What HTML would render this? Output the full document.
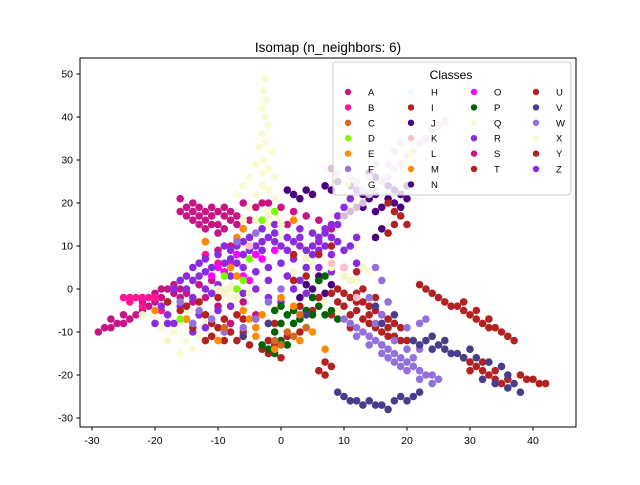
<!DOCTYPE html>
<html><head><meta charset="utf-8"><style>
body{margin:0;background:#fff}
svg text{font-family:"Liberation Sans","DejaVu Sans",sans-serif}
</style></head><body>
<svg id="chart" width="640" height="480" viewBox="0 0 640 480">
<rect width="640" height="480" fill="#fff"/>
<text x="328" y="52" text-anchor="middle" font-size="13.5">Isomap (n_neighbors: 6)</text>
<g id="points"></g>
<rect x="80" y="58" width="496" height="369" fill="none" stroke="#000" stroke-width="1"/>
<g id="axes"></g>
<g id="legend"></g>
</svg>
<script>
const xTicks=[-30,-20,-10,0,10,20,30,40];
const yTicks=[-30,-20,-10,0,10,20,30,40,50];
const yellowX=[[-2.5,49],[-2.8,46],[-2.3,44],[-3,42],[-2.5,40],[-2,38],[-3,36],[-2.5,34],[-3.5,33],[-1.5,32],[-2.8,30],[-4,29],[-2,28],[-3,27],[-5,26],[-1,26],[-3,24],[-6,24],[-2,23],[-4,22],[-7,22],[-1,21],[-3,20],[-5,19],[-2,18],[-0.5,16],[-16,-8],[-17,-10],[-15,-12],[-18,-6],[-14,-14],[-16,-15],[-13,-11],[-19,-9],[-20,-7],[-12,-8],[-15,-5],[-9,0],[-8,1],[-10,-1],[-7,0],[-8,-2],[6,4],[8,5],[10,3],[12,2],[14,4],[5,6],[2,10],[0,12],[-2,15],[7,-3],[9,-5]];
const violetRedA=[[-15,19],[-14,18],[-13,19],[-12,18],[-11,17],[-10,18],[-9,17],[-8,16],[-14,16],[-12,16],[-10,15],[-13,17],[-11,19],[-9,19],[-7,15],[-6,14],[-16,21],[-15,17],[-12,14],[-8,18],[-10,13],[-5,16],[-4,19],[-3,20],[-2,20],[0,19],[2,18],[4,17],[1,15],[-6,20],[6,16],[8,14],[-12,11],[-10,9],[-8,10],[-29,-10],[-28,-9],[-27,-9],[-26,-8],[-25,-8],[-24,-7],[-23,-6],[-22,-5],[-21,-4],[-20,-3],[-19,-2],[-18,0],[-17,1],[-16,0],[-15,-1],[-20,-1],[-18,-3],[-16,-2],[-14,-3],[-12,-2],[-10,-4],[-13,1],[-11,2],[-8,-8],[-6,-3],[-4,-6],[-14,20],[-11,15],[-9,14],[-13,15],[-16,18],[-7,17],[-17,-1],[-19,0],[-22,-3],[-25,-6],[-27,-7]];
const deepPinkB=[[-25,-2],[-24,-2],[-23,-2],[-22,-2],[-21,-2],[-20,-2],[-24,-3],[-22,-4],[-19,-5],[-12,8],[-10,6]];
const magentaO=[[-10,5],[-9,4],[-8,6],[-6,3],[-5,2],[-4,8],[-3,7],[-1,9],[-7,8],[-11,3]];
const blueVioletR=[[-16,2],[-15,3],[-14,2],[-13,3],[-17,0],[-15,0],[-14,-2],[-12,0],[-11,-1],[-10,1],[-18,-6],[-17,-8],[-15,-7],[-13,-6],[-12,-9],[-14,-10],[-20,-8],[-10,-5],[-8,-4],[-9,6],[-8,7],[-7,6],[-6,8],[-5,9],[-4,10],[-3,11],[-2,12],[-1,11],[0,10],[1,12],[2,11],[3,10],[4,9],[5,10],[6,9],[7,10],[8,8],[6,12],[5,13],[7,14],[8,12],[9,11],[10,9],[3,14],[2,7],[0,6],[-2,5],[-4,4],[-6,5],[-8,3],[-11,5],[-12,7],[-13,6],[-10,8],[-7,10],[-5,12],[-3,14],[-9,10],[4,5],[6,5],[8,4],[10,5],[12,6],[-4,0],[-2,-2],[0,-3],[2,0],[4,-1],[-6,-1],[-2,2],[1,3],[3,2],[11,10],[12,12],[9,15],[-1,15],[6,11],[7,13],[8,15],[9,17],[10,19],[11,21],[12,23],[-1,13],[1,9],[3,12],[5,8],[-3,9],[-6,11],[-8,9],[-16,-4],[-18,-8],[-19,-4],[-12,4],[-14,5]];
const indigoJ=[[14,27],[15,26],[16,25],[17,24],[18,23],[19,22],[17,21],[18,20],[19,19],[16,19],[15,22],[20,24],[20,21],[3,21],[4,23],[5,22],[7,24],[8,23],[9,25],[11,24],[12,25],[13,22],[14,21],[13,19],[1,23],[2,22],[15,18],[16,14],[15,12],[4,1],[5,0],[6,2],[7,-1],[8,1],[3,-2],[6,3]];
const thistleL=[[10,17],[11,18],[12,19],[13,20],[14,22],[15,23],[16,25],[17,26],[18,28],[19,29],[20,31],[21,32],[22,34],[23,35],[24,37],[25,38],[26,39],[12,25],[11,26],[13,23],[15,29],[17,29],[14,26],[9,27],[8,28],[18,32],[19,34]];
const firebrickT=[[10,-1],[11,-2],[12,-1],[13,-3],[14,-4],[15,-5],[16,-6],[17,-7],[18,-8],[19,-9],[12,-5],[13,-7],[14,-8],[15,-9],[16,-10],[17,-11],[11,-6],[10,-4],[9,0],[9,-3],[8,-1],[13,0],[15,-2],[18,-11],[20,-12],[16,-13],[22,1],[23,0],[24,-1],[25,-2],[26,-3],[27,-4],[28,-4],[29,-5],[30,-6],[31,-7],[32,-8],[33,-9],[34,-9],[35,-10],[36,-11],[37,-12],[31,-5],[29,-3],[33,-7],[29,-16],[30,-17],[31,-18],[32,-19],[33,-20],[34,-21],[35,-22],[30,-19],[32,-17],[34,-19],[36,-21],[38,-20],[39,-21],[40,-21],[41,-22],[42,-22],[17,20],[18,18],[19,17],[20,15],[18,15],[17,13],[-15,-4],[-13,-3],[-11,-8],[-10,-9],[-9,-7],[-8,-10],[-7,-12],[-6,-10],[-5,-13],[-3,-14],[-2,-12],[-4,-9],[-12,-12],[-14,-9],[-1,-8],[1,-6],[3,-4],[5,-5],[2,2],[4,3],[6,-2],[8,-6],[7,-17],[7,-20],[6,-19],[8,-18],[0,-16],[-2,-15],[-6,-7],[-10,-2],[-16,-5],[2,8],[6,8],[8,10],[-18,-3],[12,4],[3,-10],[11,-9],[14,-6],[17,-9],[19,-12],[12,-3],[-11,-11],[-9,-12],[-7,-6],[-12,-6],[-1,-13],[1,-11]];
const darkGreenP=[[-1,-5],[0,-4],[1,-6],[2,-5],[3,-7],[4,-5],[5,-6],[6,-4],[7,-6],[8,-5],[-1,-10],[0,-12],[1,-13],[-2,-14],[-1,-15],[2,-8],[4,-9],[6,2],[7,3],[5,-2],[9,-7],[-3,-13],[0,-8]];
const orangeE=[[-8,5],[-7,3],[-6,-5],[-5,-7],[-4,-9],[-3,-6],[-2,-8],[0,-2],[2,-4],[-6,14],[-7,12],[-4,-11],[-1,-14],[5,-10],[7,-14],[3,-12],[-10,-12],[-15,-7],[-12,11],[2,16],[-20,-5]];
const purpleW=[[10,-7],[11,-8],[12,-9],[13,-10],[14,-11],[15,-12],[16,-13],[17,-14],[18,-15],[19,-16],[20,-17],[21,-18],[22,-19],[23,-20],[24,-20],[25,-21],[17,-16],[19,-18],[21,-16],[22,-14],[18,-12],[20,-9],[22,-8],[23,-7],[15,-8],[16,-6],[17,-3],[16,2],[15,5],[14,-2],[-13,-5],[-11,-7],[-9,-10],[-6,-9],[-4,-7],[-16,-3],[-14,-8],[-2,-3],[0,0],[-7,11],[-4,13],[14,-13],[16,-15],[18,-17],[20,-19],[22,-21],[24,-22],[20,-14],[12,-11]];
const slateV=[[21,-12],[22,-13],[23,-12],[24,-14],[25,-13],[26,-14],[27,-15],[28,-15],[29,-16],[24,-11],[26,-12],[30,-14],[31,-16],[33,-17],[35,-18],[36,-20],[37,-22],[38,-24],[34,-22],[36,-23],[32,-21],[9,-24],[10,-25],[11,-26],[12,-26],[13,-27],[14,-26],[15,-27],[16,-27],[17,-28],[18,-26],[19,-25],[20,-26],[21,-25],[22,-24],[15,-4],[16,-8],[18,-6],[4,-6],[-2,-8],[-6,-11]];
const beigeG=[[-10,0],[-9,-1],[-8,0],[-7,-2],[-6,16],[-4,16],[-2,17],[0,15],[2,4],[4,7],[8,5],[10,3],[11,2],[13,5],[-22,-6],[-18,-12],[-5,-1]];
const chocolateC=[[-1,-12],[0,-13],[1,-10],[2,-11],[4,-9],[3,-6],[-9,-9]];
const greenD=[[-7,0],[-6,2],[-5,7],[-3,16],[-1,18],[-9,3],[-16,-7]];
const pinkK=[[8,6],[10,5],[12,-2],[-5,10]];
const groups=[
 ['yellow-x',yellowX,'#fafad2'],['violetred-a',violetRedA,'#c71585'],['deeppink-b',deepPinkB,'#ff1493'],
 ['magenta-o',magentaO,'#ff00ff'],['blueviolet-r',blueVioletR,'#8a2be2'],['indigo-j',indigoJ,'#4b0082'],
 ['thistle-l',thistleL,'#d8bfd8'],['firebrick-t',firebrickT,'#b22222'],['darkgreen-p',darkGreenP,'#006400'],
 ['orange-e',orangeE,'#ff8c00'],['purple-w',purpleW,'#9370db'],['slateblue-v',slateV,'#483d8b'],
 ['beige-g',beigeG,'#f5f5c8'],['chocolate-c',chocolateC,'#d2691e'],['green-d',greenD,'#7cfc00'],['pink-k',pinkK,'#ffc0cb']];
const legendLabels=['A','B','C','D','E','F','G','H','I','J','K','L','M','N','O','P','Q','R','S','T','U','V','W','X','Y','Z'];
const legendColors=['#c71585','#ff1493','#d2691e','#7cfc00','#ff8c00','#9370db','#fafad2','#f0f8ff','#b22222','#4b0082','#ffc0cb','#fafad2','#ff8c00','#4b0082','#ff00ff','#006400','#fafad2','#8a2be2','#c71585','#b22222','#b22222','#483d8b','#9370db','#fafad2','#b22222','#8a2be2'];
const NS='http://www.w3.org/2000/svg';
const sx=v=>281+6.3*v, sy=v=>289-4.3*v;
const pg=document.getElementById('points');
groups.forEach(([name,arr,col])=>{
 const g=document.createElementNS(NS,'g');
 
 
 arr.forEach(p=>{const c=document.createElementNS(NS,'circle');
  c.setAttribute('cx',sx(p[0]));c.setAttribute('cy',sy(p[1]));c.setAttribute('r',3.8);c.setAttribute('fill',col);
  
  
  g.appendChild(c);});
 pg.appendChild(g);});
const ax=document.getElementById('axes');
xTicks.forEach(t=>{const x=sx(t);
 const l=document.createElementNS(NS,'line');l.setAttribute('x1',x);l.setAttribute('x2',x);l.setAttribute('y1',427);l.setAttribute('y2',430.5);l.setAttribute('stroke','#000');
 
 
 ax.appendChild(l);
 const tx=document.createElementNS(NS,'text');tx.setAttribute('x',x);tx.setAttribute('y',444);tx.setAttribute('text-anchor','middle');tx.setAttribute('font-size','10.5');tx.textContent=t;
 
 
 ax.appendChild(tx);});
yTicks.forEach(t=>{const y=sy(t);
 const l=document.createElementNS(NS,'line');l.setAttribute('x1',76.5);l.setAttribute('x2',80);l.setAttribute('y1',y);l.setAttribute('y2',y);l.setAttribute('stroke','#000');
 
 
 ax.appendChild(l);
 const tx=document.createElementNS(NS,'text');tx.setAttribute('x',73);tx.setAttribute('y',y+3.5);tx.setAttribute('text-anchor','end');tx.setAttribute('font-size','10.5');tx.textContent=t;
 
 
 ax.appendChild(tx);});
const lg=document.getElementById('legend');
const box=document.createElementNS(NS,'rect');
box.setAttribute('x',333);box.setAttribute('y',62);box.setAttribute('width',238);box.setAttribute('height',133);box.setAttribute('rx',3);
box.setAttribute('fill','rgba(255,255,255,0.8)');box.setAttribute('stroke','#ccc');


lg.appendChild(box);
const tt=document.createElementNS(NS,'text');tt.setAttribute('x',451);tt.setAttribute('y',79);tt.setAttribute('text-anchor','middle');tt.setAttribute('font-size','12');tt.textContent='Classes';


lg.appendChild(tt);
const colX=[348,411,474,536], rowsPer=[7,7,6,6];
let idx=0;
colX.forEach((cx,ci)=>{for(let r=0;r<rowsPer[ci];r++){const y=92+r*15.4;
 const c=document.createElementNS(NS,'circle');c.setAttribute('cx',cx);c.setAttribute('cy',y);c.setAttribute('r',3.2);c.setAttribute('fill',legendColors[idx]);
 
 
 lg.appendChild(c);
 const t=document.createElementNS(NS,'text');t.setAttribute('x',cx+20);t.setAttribute('y',y+3.5);t.setAttribute('font-size','9.5');t.textContent=legendLabels[idx];
 
 
 lg.appendChild(t);idx++;}});
</script>
</body></html>
